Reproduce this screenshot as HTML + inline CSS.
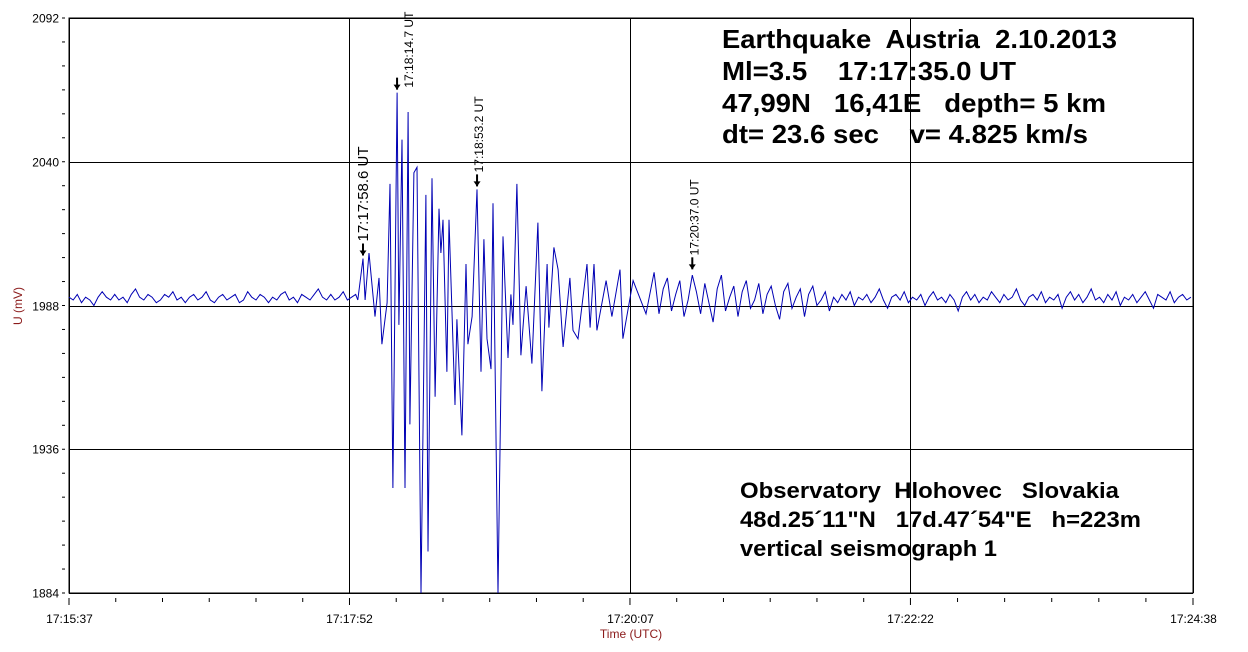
<!DOCTYPE html>
<html><head><meta charset="utf-8"><style>
html,body{margin:0;padding:0;background:#fff;}
svg{display:block;font-family:"Liberation Sans",Arial,sans-serif;}
</style></head><body>
<svg id="chart" width="1248" height="652" viewBox="0 0 1248 652" xmlns="http://www.w3.org/2000/svg">
<rect x="0" y="0" width="1248" height="652" fill="#fff"/>
<g id="grid"></g>
<g id="axes"></g>
<path id="trace" fill="none" stroke="#0000b4" stroke-width="1"/>
<g id="annots"></g>
<text transform="translate(22,306) rotate(-90)" text-anchor="middle" font-size="12" fill="#8b1a1a">U (mV)</text>
<text x="631" y="638" text-anchor="middle" font-size="12" fill="#8b1a1a">Time (UTC)</text>
<g font-weight="bold" font-size="26" fill="#000" lengthAdjust="spacingAndGlyphs">
<text x="722" y="48" xml:space="preserve" textLength="395" lengthAdjust="spacingAndGlyphs">Earthquake  Austria  2.10.2013</text>
<text x="722" y="80" xml:space="preserve" textLength="294" lengthAdjust="spacingAndGlyphs">Ml=3.5    17:17:35.0 UT</text>
<text x="722" y="112" xml:space="preserve" textLength="384" lengthAdjust="spacingAndGlyphs">47,99N   16,41E   depth= 5 km</text>
<text x="722" y="143" xml:space="preserve" textLength="366" lengthAdjust="spacingAndGlyphs">dt= 23.6 sec    v= 4.825 km/s</text>
</g>
<g font-weight="bold" font-size="22" fill="#000">
<text x="740" y="498" xml:space="preserve" textLength="379" lengthAdjust="spacingAndGlyphs">Observatory  Hlohovec   Slovakia</text>
<text x="740" y="527" xml:space="preserve" textLength="401" lengthAdjust="spacingAndGlyphs">48d.25´11"N   17d.47´54"E   h=223m</text>
<text x="740" y="556" xml:space="preserve" textLength="257" lengthAdjust="spacingAndGlyphs">vertical seismograph 1</text>
</g>
</svg>
<script>
const yTicks=[2092,2040,1988,1936,1884];
const xTickLabels=["17:15:37","17:17:52","17:20:07","17:22:22","17:24:38"];
const xTickTimes=[0,135,270,405,541];
const preValues=[1991,1990,1992,1989,1991,1990,1988,1991,1993,1991,1990,1992,1990,1991,1989,1992,1994,1991,1990,1992,1991,1989,1990,1992,1991,1993,1990,1991,1989,1991,1992,1990,1991,1993,1990,1989,1991,1992,1990,1991,1992,1989,1990,1993,1991,1990,1992,1991,1989,1991,1990,1992,1993,1990,1991,1989,1992,1991,1990,1992,1994,1991,1990,1992,1990,1991,1993,1990,1991,1992];
const eventTimes=[141.5,142.5,144.4,147.3,149.2,150.6,153.1,154.5,155.9,157.9,158.8,160.3,161.7,163.2,164.1,166.0,167.5,169.4,171.8,172.8,174.7,176.2,178.1,179.0,180.0,181.9,182.9,185.8,186.7,189.1,191.1,192.0,194.0,196.4,198.3,199.7,201.2,203.1,204.1,206.5,208.9,211.3,212.7,213.7,215.6,217.5,220.0,222.8,225.7,227.6,230.1,231.0,233.4,235.4,237.8,241.1,242.6,245.0,249.3,250.8,252.7,254.1,258.5,261.3,265.2,266.6,271.5,277.7,281.6];
const eventValues=[2005,1990,2007,1984,1998,1974,1989,2032,1922,2065,1981,2048,1922,2058,1945,2036,2038,1884,2028,1899,2034,1955,2023,2007,2019,1964,2019,1952,1983,1941,2003,1974,1984,2030,1964,2012,1976,1965,2025,1884,2013,1969,1992,1981,2032,1970,1995,1967,2018,1957,2003,1980,2009,2001,1973,1998,1979,1976,2003,1980,2003,1979,1997,1984,2001,1976,1997,1985,2000];
const postValues=[1985,1994,1998,1986,1992,1997,1984,1990,1999,1993,1985,1996,1989,1982,1994,1999,1986,1991,1995,1984,1993,1997,1987,1990,1996,1985,1992,1995,1988,1983,1993,1996,1987,1991,1994,1984,1992,1995,1988,1990,1993,1986,
1991,1989,1992,1990,1993,1988,1991,1990,1992,1989,1991,1994,1990,1987,1991,1992,1990,1993,1989,1991,1990,1992,1988,1991,1993,1990,1991,1989,1992,1990,1986,1991,1993,1990,1992,1989,1991,1990,1993,1991,1989,1992,1990,1991,1994,1990,1988,1991,1992,1990,1993,1989,1991,1990,1992,1987,1991,1993,1990,1992,1989,1991,1994,1990,1991,1989,1992,1990,1993,1988,1991,1990,1992,1989,1991,1993,1990,1987,1992,1991,1990,1993,1989,1991,1992,1990,1991];
const arrivalLabels=["17:17:58.6 UT","17:18:14.7 UT","17:18:53.2 UT","17:20:37.0 UT"];
const arrivalTimes=[141.5,157.9,196.4,300];
const arrivalValues=[2005,2065,2030,2000];

const X0=69,X1=1193,Y0=18,Y1=593,T0=0,T1=541,VMIN=1884,VMAX=2092;
const xs=t=>X0+(t-T0)/(T1-T0)*(X1-X0);
const ys=v=>Y0+(VMAX-v)/(VMAX-VMIN)*(Y1-Y0);
const NS="http://www.w3.org/2000/svg";
function mk(tag,attrs,parent){const e=document.createElementNS(NS,tag);for(const k in attrs)e.setAttribute(k,attrs[k]);parent.appendChild(e);return e;}
const grid=document.getElementById('grid'),axes=document.getElementById('axes'),ann=document.getElementById('annots');
const fr=mk('rect',{x:X0,y:Y0,width:X1-X0,height:Y1-Y0,fill:'none',stroke:'#000','stroke-width':1},grid);


yTicks.forEach((v,i)=>{
  const y=Math.round(ys(v))+0.5;
  const l=mk('line',{x1:X0,x2:X1,y1:y,y2:y,stroke:'#000','stroke-width':1},grid);
  
  
  const t=mk('text',{x:59,y:y+4,'text-anchor':'end','font-size':12,fill:'#000'},axes);
  t.textContent=v;
  
  
  if(i<yTicks.length-1){
    for(let k=0;k<6;k++){
      const yy=ys(v-(yTicks[i]-yTicks[i+1])*k/6);
      const m=mk('line',{x1:62,x2:65,y1:yy,y2:yy,stroke:'#000','stroke-width':1},axes);
      
      
    }
  }
});
mk('line',{x1:62,x2:65,y1:Y1,y2:Y1,stroke:'#000'},axes);
xTickTimes.forEach((tt,i)=>{
  const x=Math.round(xs(tt))+0.5;
  const l=mk('line',{x1:x,x2:x,y1:Y0,y2:Y1,stroke:'#000','stroke-width':1},grid);
  
  
  const t=mk('text',{x:x,y:623,'text-anchor':'middle','font-size':12,fill:'#000'},axes);
  t.textContent=xTickLabels[i];
  
  
  if(i<xTickTimes.length-1){
    for(let k=0;k<6;k++){
      const xx=xs(tt+(xTickTimes[i+1]-tt)*k/6);
      const m=mk('line',{x1:xx,x2:xx,y1:598,y2:k==0?605:602,stroke:'#000','stroke-width':1},axes);
      
      
    }
  }
});
mk('line',{x1:X1,x2:X1,y1:598,y2:605,stroke:'#000'},axes);
const pts=[];
preValues.forEach((v,i)=>pts.push([i*2,v]));
pts.push([139,1990]);
eventTimes.forEach((t,i)=>pts.push([t,eventValues[i]]));
postValues.forEach((v,i)=>{const t=284+i*2;if(t<=T1)pts.push([t,v]);});
const clip=v=>Math.max(Y0,Math.min(Y1,ys(v)));
document.getElementById('trace').setAttribute('d',pts.map((p,i)=>(i?'L':'M')+xs(p[0]).toFixed(1)+','+clip(p[1]).toFixed(1)).join(''));
const sizes=[15,12,12,12];
const dxs=[5,16,6,6],dys=[-14,-2,-14,-14];
arrivalTimes.forEach((t,i)=>{
  const x=xs(t),yp=ys(arrivalValues[i])-3;
  const g=mk('g',{},ann);
  
  
  mk('line',{x1:x,x2:x,y1:yp-12,y2:yp,stroke:'#000','stroke-width':2},g);
  mk('path',{d:`M${x-3.5},${yp-5}L${x+3.5},${yp-5}L${x},${yp}Z`,fill:'#000'},g);
  const tx=mk('text',{transform:`translate(${x+dxs[i]},${yp+dys[i]}) rotate(-90)`,'font-size':sizes[i],fill:'#000'},g);
  tx.textContent=arrivalLabels[i];
  
  
});
</script>
</body></html>
